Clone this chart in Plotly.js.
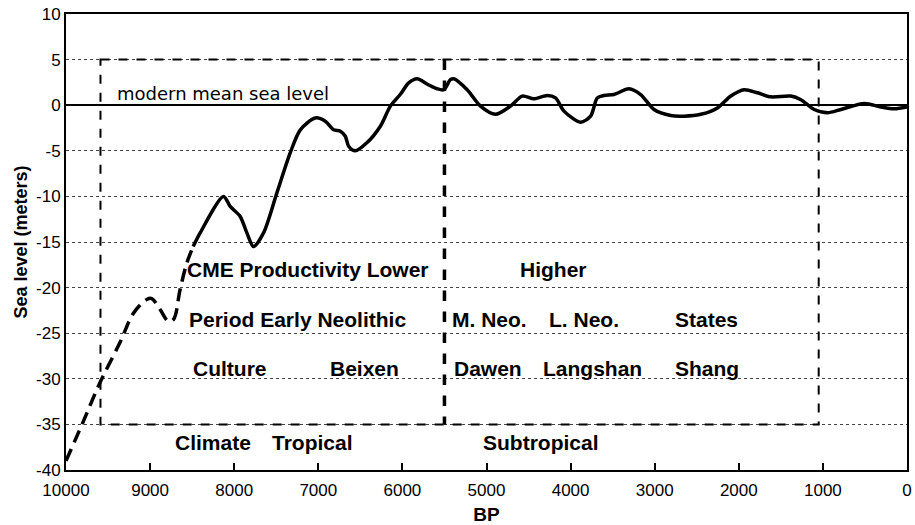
<!DOCTYPE html>
<html>
<head>
<meta charset="utf-8">
<script src="https://cdn.plot.ly/plotly-3.0.1.min.js"></script>
<style>html,body{margin:0;padding:0;background:#fff;}#chart{width:915px;height:525px;}</style>
</head>
<body>
<div id="chart"></div>
<script>
// Reconstructed (dashed) early part of the curve
const bpDashed = [10000, 9800, 9595, 9357, 9198, 9040, 8980, 8881, 8782, 8722, 8643, 8563, 8488];
const slDashed = [-39, -34.8, -30.4, -26.0, -22.8, -21.3, -21.2, -22.4, -23.7, -23.5, -20.2, -17.3, -15.5];
// Measured (solid) part of the curve
const bpSolid = [8488, 8405, 8127, 8048, 7929, 7849, 7770, 7651, 7492, 7333, 7214, 7036, 6917, 6817, 6738, 6679, 6639, 6560, 6420, 6262, 6143, 6024, 5925, 5825, 5702, 5587, 5508, 5429, 5389, 5230, 5071, 4893, 4714, 4575, 4437, 4278, 4179, 4079, 3881, 3762, 3683, 3603, 3484, 3306, 3167, 3008, 2810, 2651, 2452, 2254, 2095, 1937, 1778, 1619, 1381, 1262, 1103, 944, 786, 508, 310, 151, 0];
const slSolid = [-15.5, -14.0, -10.0, -11.1, -12.2, -14.0, -15.5, -14.0, -9.6, -5.2, -2.7, -1.4, -1.75, -2.7, -2.85, -3.4, -4.5, -5.0, -4.1, -2.3, -0.1, 1.2, 2.45, 2.9, 2.3, 1.8, 1.7, 2.8, 2.9, 1.7, -0.1, -1.0, -0.1, 1.0, 0.7, 1.06, 0.8, -0.65, -1.86, -1.2, 0.8, 1.06, 1.17, 1.8, 1.17, -0.47, -1.13, -1.2, -1.0, -0.3, 1.0, 1.7, 1.36, 0.92, 1.0, 0.6, -0.47, -0.83, -0.47, 0.2, -0.2, -0.4, -0.2];
// Axis ticks
const xTicks = [10000, 9000, 8000, 7000, 6000, 5000, 4000, 3000, 2000, 1000, 0];
const yTicks = [10, 5, 0, -5, -10, -15, -20, -25, -30, -35, -40];
// Period box bounds (BP / metres)
const boxBP = [9590, 5500, 1050];
const boxSL = [5, -35];
// Text labels inside the chart
const labelText = ["CME Productivity Lower", "Higher", "Period Early Neolithic", "M. Neo.", "L. Neo.", "States", "Culture", "Beixen", "Dawen", "Langshan", "Shang", "Climate", "Tropical", "Subtropical"];
const labelBP = [8583, 4631, 8560, 5440, 4286, 2786, 8512, 6881, 5405, 4357, 2786, 8726, 7571, 5071];
const labelSL = [-18.0, -18.0, -23.5, -23.5, -23.5, -23.5, -28.9, -28.9, -28.9, -28.9, -28.9, -37.0, -37.0, -37.0];
const seaLevelLabel = "modern mean sea level";

const traces = [
  {x: bpDashed, y: slDashed, mode: 'lines', line: {color: '#000', width: 3.5, dash: '13px,7px', shape: 'spline'}, hoverinfo: 'skip'},
  {x: bpSolid, y: slSolid, mode: 'lines', line: {color: '#000', width: 3.5, shape: 'spline', smoothing: 0.8}, hoverinfo: 'skip'}
];

const annotations = labelText.map((t, i) => ({
  x: labelBP[i], y: labelSL[i], xref: 'x', yref: 'y', text: '<b>' + t + '</b>',
  showarrow: false, xanchor: 'left', yanchor: 'middle',
  font: {family: 'Liberation Sans, Arial, sans-serif', size: 21, color: '#000'}
}));
annotations.push({x: 9420, y: 1.3, xref: 'x', yref: 'y', text: seaLevelLabel, showarrow: false,
  xanchor: 'left', yanchor: 'middle', font: {family: 'DejaVu Sans, sans-serif', size: 18, color: '#000'}});

const shapes = [
  {type: 'rect', xref: 'x', yref: 'y', x0: boxBP[0], x1: boxBP[2], y0: boxSL[0], y1: boxSL[1],
   line: {color: '#000', width: 2, dash: 'dash'}},
  {type: 'line', xref: 'x', yref: 'y', x0: boxBP[1], x1: boxBP[1], y0: boxSL[0], y1: boxSL[1],
   line: {color: '#000', width: 3.5, dash: 'dash'}}
];

const layout = {
  width: 915, height: 525,
  margin: {l: 66, r: 8, t: 14, b: 55},
  paper_bgcolor: '#fff', plot_bgcolor: '#fff',
  showlegend: false,
  font: {family: 'Liberation Sans, Arial, sans-serif', color: '#000'},
  xaxis: {
    range: [10000, 0], tickvals: xTicks, ticktext: xTicks.map(String),
    ticks: 'inside', ticklen: 7, tickwidth: 2, tickcolor: '#000',
    showline: true, mirror: true, linecolor: '#000', linewidth: 2,
    showgrid: false, zeroline: false, ticklabelstandoff: 4,
    tickfont: {size: 17, color: '#000'},
    title: {text: '<b>BP</b>', font: {size: 19, color: '#000'}, standoff: 10}
  },
  yaxis: {
    range: [-40, 10], tickvals: yTicks, ticktext: yTicks.map(String),
    ticks: '', showline: true, mirror: true, linecolor: '#000', linewidth: 2,
    showgrid: true, gridcolor: '#444', gridwidth: 1, griddash: 'dot',
    zeroline: true, zerolinecolor: '#000', zerolinewidth: 1.5,
    tickfont: {size: 17, color: '#000'},
    title: {text: '<b>Sea level (meters)</b>', font: {size: 18, color: '#000'}, standoff: 4}
  },
  annotations: annotations,
  shapes: shapes
};

Plotly.newPlot('chart', traces, layout, {staticPlot: true, displayModeBar: false});
</script>
</body>
</html>
